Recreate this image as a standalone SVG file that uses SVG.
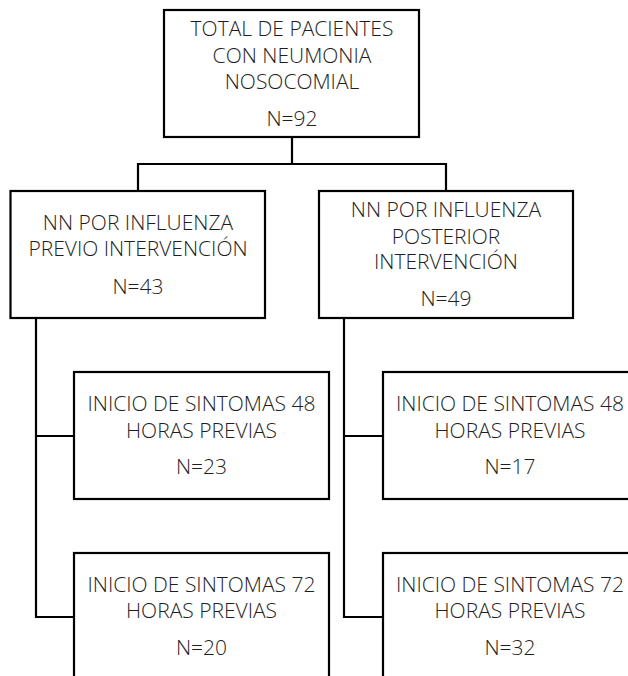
<svg xmlns="http://www.w3.org/2000/svg" width="628" height="676" viewBox="0 0 628 676">
<style>
.box{fill:#fff;stroke:#000;stroke-width:2.2}
.con{fill:none;stroke:#000;stroke-width:2.2}
text{font-family:"Open Sans","Liberation Sans",sans-serif;font-size:21px;fill:#1e1e1e;text-anchor:middle;font-weight:300}
</style>
<rect width="628" height="676" fill="#fff"/>
<g id="connectors">
<line class="con" x1="292" y1="137" x2="292" y2="164"/>
<polyline class="con" points="138,191 138,164 446,164 446,191"/>
<polyline class="con" points="36,318 36,617 74,617"/>
<line class="con" x1="36" y1="436" x2="74" y2="436"/>
<polyline class="con" points="344,318 344,617 383,617"/>
<line class="con" x1="344" y1="436" x2="383" y2="436"/>
</g>
<g id="total">
<rect class="box" x="164" y="10" width="255" height="127"/>
<text x="292" y="36">TOTAL DE PACIENTES</text>
<text x="292" y="63">CON NEUMONIA</text>
<text x="292" y="89">NOSOCOMIAL</text>
<text x="292" y="126">N=92</text>
</g>
<g id="previo">
<rect class="box" x="10.5" y="191" width="254.5" height="127"/>
<text x="138" y="230">NN POR INFLUENZA</text>
<text x="138" y="256">PREVIO INTERVENCIÓN</text>
<text x="138" y="294">N=43</text>
</g>
<g id="posterior">
<rect class="box" x="319" y="191" width="254" height="127"/>
<text x="446" y="217">NN POR INFLUENZA</text>
<text x="446" y="243.5">POSTERIOR</text>
<text x="446" y="269">INTERVENCIÓN</text>
<text x="446" y="306">N=49</text>
</g>
<g id="previo48">
<rect class="box" x="74" y="372" width="255" height="127"/>
<text x="201.5" y="411">INICIO DE SINTOMAS 48</text>
<text x="201.5" y="437.5">HORAS PREVIAS</text>
<text x="201.5" y="474">N=23</text>
</g>
<g id="posterior48">
<rect class="box" x="383" y="372" width="255" height="127"/>
<text x="510" y="411">INICIO DE SINTOMAS 48</text>
<text x="510" y="437.5">HORAS PREVIAS</text>
<text x="510" y="474">N=17</text>
</g>
<g id="previo72">
<rect class="box" x="74" y="553" width="255" height="140"/>
<text x="201.5" y="592">INICIO DE SINTOMAS 72</text>
<text x="201.5" y="618">HORAS PREVIAS</text>
<text x="201.5" y="655">N=20</text>
</g>
<g id="posterior72">
<rect class="box" x="383" y="553" width="255" height="140"/>
<text x="510" y="592">INICIO DE SINTOMAS 72</text>
<text x="510" y="618">HORAS PREVIAS</text>
<text x="510" y="655">N=32</text>
</g>
</svg>
